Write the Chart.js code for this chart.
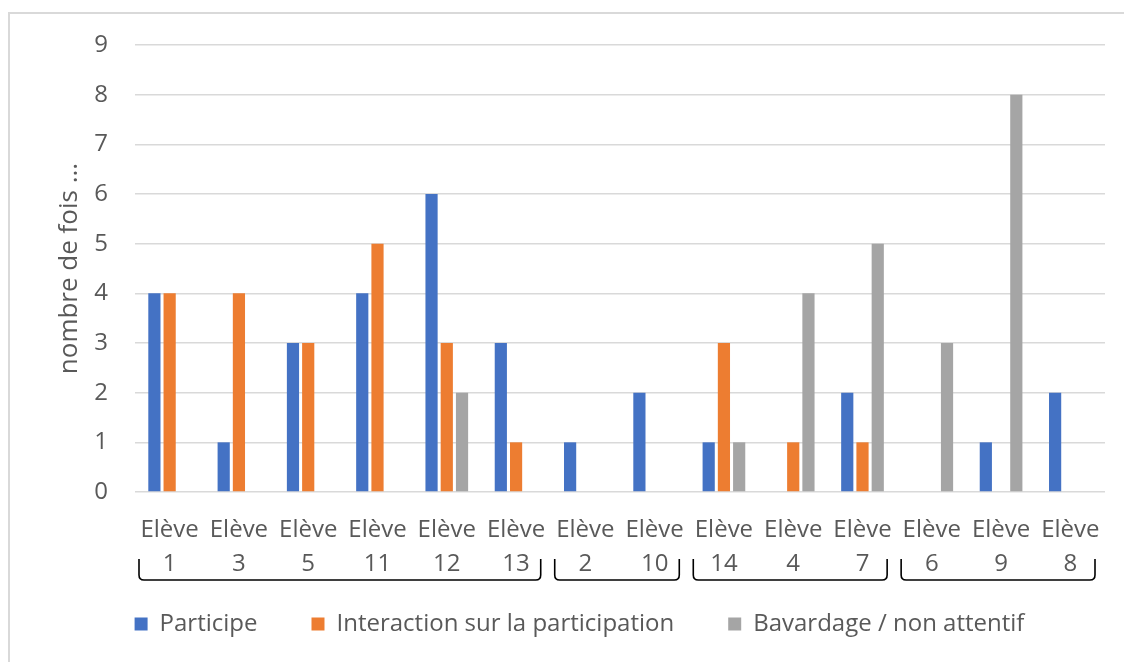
<!DOCTYPE html>
<html>
<head>
<meta charset="utf-8">
<script src="https://cdn.jsdelivr.net/npm/chart.js@4.4.1/dist/chart.umd.min.js"></script>
<style>
  body { margin: 0; background: #fff; }
  #wrap { position: relative; width: 1124px; height: 662px; overflow: hidden; }
  #frame { position: absolute; left: 8px; top: 12px; width: 1200px; height: 700px;
           border-left: 2px solid #d9d9d9; border-top: 2px solid #d9d9d9; }
  canvas { position: absolute; left: 0; top: 0; }
</style>
</head>
<body>
<div id="wrap">
  <div id="frame"></div>
  <canvas id="chart" width="1124" height="662"></canvas>
</div>
<script>
const students = ['1', '3', '5', '11', '12', '13', '2', '10', '14', '4', '7', '6', '9', '8'];
const participe = [4, 1, 3, 4, 6, 3, 1, 2, 1, 0, 2, 0, 1, 2];
const interaction = [4, 4, 3, 5, 3, 1, 0, 0, 3, 1, 1, 0, 0, 0];
const bavardage = [0, 0, 0, 0, 2, 0, 0, 0, 1, 4, 5, 3, 8, 0];
// groups of students marked by brackets under the axis (first, last index)
const groups = [[0, 5], [6, 7], [8, 10], [11, 13]];

const textColor = '#595959';
const fontFamily = '"Open Sans", "Noto Sans", sans-serif';

const bracketPlugin = {
    id: 'brackets',
    afterLayout(chart) {
        // let the two-line tick labels run under the legend's top padding
        const x = chart.scales.x;
        x.bottom = x.top + 110;
        x.height = 110;
    },
    afterDraw(chart) {
        const x = chart.scales.x;
        const ctx = chart.ctx;
        const cw = (x.right - x.left) / students.length;
        const top = chart.chartArea.bottom + 67;
        const bottom = chart.chartArea.bottom + 88;
        const r = 5;
        ctx.save();
        ctx.strokeStyle = '#000';
        ctx.lineWidth = 1.6;
        groups.forEach(([a, b]) => {
            const x1 = x.getPixelForValue(a) - cw / 2 + 4;
            const x2 = x.getPixelForValue(b) + cw / 2 - 10;
            ctx.beginPath();
            ctx.moveTo(x1, top);
            ctx.lineTo(x1, bottom - r);
            ctx.quadraticCurveTo(x1, bottom, x1 + r, bottom);
            ctx.lineTo(x2 - r, bottom);
            ctx.quadraticCurveTo(x2, bottom, x2, bottom - r);
            ctx.lineTo(x2, top);
            ctx.stroke();
        });
        ctx.restore();
    }
};

const padLeft = 54;

new Chart(document.getElementById('chart'), {
    type: 'bar',
    data: {
        labels: students.map(n => ['Elève', n]),
        datasets: [
            { label: 'Participe', data: participe, backgroundColor: '#4472C4' },
            { label: 'Interaction sur la participation', data: interaction, backgroundColor: '#ED7D31' },
            { label: 'Bavardage / non attentif', data: bavardage, backgroundColor: '#A5A5A5' }
        ]
    },
    options: {
        responsive: false,
        animation: false,
        categoryPercentage: 0.66,
        barPercentage: 0.8,
        layout: { padding: { left: padLeft, right: 19, top: 45, bottom: 16 } },
        scales: {
            x: {
                grid: { display: false },
                border: { display: false },
                ticks: {
                    color: textColor,
                    font: { family: fontFamily, size: 24, lineHeight: 1.42 },
                    maxRotation: 0,
                    autoSkip: false,
                    padding: 13
                },
                afterFit(scale) { scale.height = 66; }
            },
            y: {
                min: 0,
                max: 9,
                grid: { color: '#d9d9d9', lineWidth: 1.5, drawTicks: false },
                border: { display: false },
                ticks: {
                    stepSize: 1,
                    color: textColor,
                    font: { family: fontFamily, size: 24 },
                    padding: 27
                },
                title: {
                    display: true,
                    text: 'nombre de fois ...',
                    color: textColor,
                    font: { family: fontFamily, size: 26 },
                    padding: { top: 70 - 16 - padLeft, bottom: 0 }
                },
                afterFit(scale) { scale.width = 135 - padLeft; }
            }
        },
        plugins: {
            legend: {
                position: 'bottom',
                labels: {
                    color: textColor,
                    font: { family: fontFamily, size: 24 },
                    boxWidth: 13,
                    boxHeight: 13,
                    padding: 54
                }
            },
            tooltip: { enabled: false }
        }
    },
    plugins: [bracketPlugin]
});
</script>
</body>
</html>
